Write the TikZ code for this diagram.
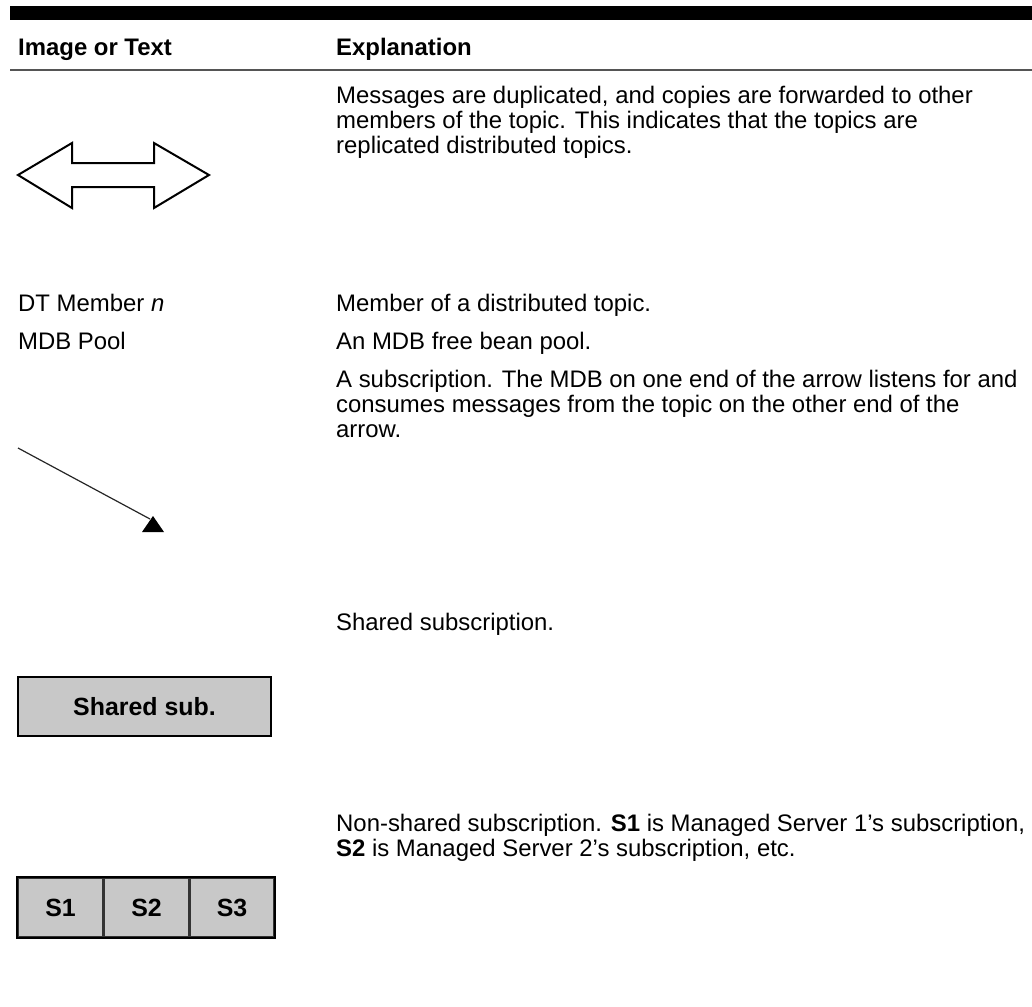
\documentclass[tikz,border=0pt]{standalone}
\usepackage{fontspec}
\setmainfont{Liberation Sans}
\usetikzlibrary{positioning}
\definecolor{rulegray}{HTML}{555555}
\definecolor{subgray}{HTML}{C8C8C8}
\tikzset{
  txt/.style={anchor=base west, inner sep=0pt, font=\fontsize{24}{25}\selectfont},
  headtxt/.style={txt, font=\fontsize{24}{25}\selectfont\bfseries},
  subcell/.style={fill=subgray, draw=black!80, line width=1.5bp, inner sep=0pt,
    minimum height=59bp, font=\fontsize{25}{25}\selectfont\bfseries},
}
\begin{document}
\begin{tikzpicture}[x=1bp, y=-1bp]
\useasboundingbox (0,0) rectangle (1032,1007);

% table head
\fill[black] (10,6) rectangle (1032,20);
\node[headtxt] (himg) at (18,55) {Image or Text};
\node[headtxt] (hexp) at (336,55) {Explanation};
\draw[rulegray, line width=2bp] (10,70) -- (1032,70);

% replicated topics
\node[txt] (rep1) at (336,103) {Messages are duplicated, and copies are forwarded to other};
\node[txt] (rep2) at (336,128) {members of the topic. This indicates that the topics are};
\node[txt] (rep3) at (336,153) {replicated distributed topics.};
\draw[line width=2bp, line join=miter]
  (18,175) -- (72,143) -- (72,163) -- (154,163) -- (154,143) -- (209,175)
  -- (154,208) -- (154,187) -- (72,187) -- (72,208) -- cycle;

% members and pools
\node[txt] (mem) at (18,311) {DT Member \textit{n}};
\node[txt] (memexp) at (336,311) {Member of a distributed topic.};
\node[txt] (pool) at (18,349) {MDB Pool};
\node[txt] (poolexp) at (336,349) {An MDB free bean pool.};

% subscription
\node[txt] (sub1) at (336,387) {A subscription. The MDB on one end of the arrow listens for and};
\node[txt] (sub2) at (336,412) {consumes messages from the topic on the other end of the};
\node[txt] (sub3) at (336,437) {arrow.};
\coordinate (mdb) at (18,448);
\coordinate (topic) at (150,519);
\draw[black!85, line width=1.2bp] (mdb) -- (topic);
\fill[black] (153,516) -- (164,532) -- (142,532) -- cycle;

% shared subscription
\node[txt] (shexp) at (336,630) {Shared subscription.};
\node[subcell, draw=black, line width=2bp, minimum width=253bp] (shared) at (144.5,706.5) {Shared sub.};

% non-shared subscription
\node[txt] (ns1) at (336,831) {Non-shared subscription. \textbf{S1} is Managed Server 1's subscription,};
\node[txt] (ns2) at (336,856) {\textbf{S2} is Managed Server 2's subscription, etc.};
\node[subcell, minimum width=85bp] (s1) at (60.5,907.5) {S1};
\node[subcell, minimum width=84bp, right=0pt of s1] (s2) {S2};
\node[subcell, minimum width=84bp, right=0pt of s2] (s3) {S3};
\draw[black, line width=2bp] (s1.north west) rectangle (s3.south east);

\end{tikzpicture}
\end{document}
